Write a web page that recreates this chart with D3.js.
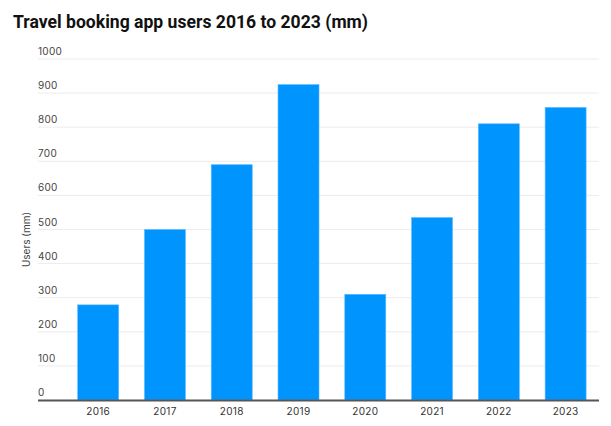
<!DOCTYPE html>
<html><head><meta charset="utf-8">
<script src="https://cdn.jsdelivr.net/npm/d3@7"></script>
<style>
html,body{margin:0;padding:0;background:#fff;}
svg{display:block;font-family:Inter, "Noto Sans", sans-serif;}
</style></head>
<body>
<svg id="chart" width="611" height="426"></svg>
<script>
const years = ["2016","2017","2018","2019","2020","2021","2022","2023"];
const users = [279, 500, 690, 925, 310, 535, 810, 858];
const yTicks = [0,100,200,300,400,500,600,700,800,900,1000];
const titleText = "Travel booking app users 2016 to 2023 (mm)";
const yAxisTitle = "Users (mm)";

const svg = d3.select("#chart");
const gridLeft = 38, gridRight = 599;
const y = d3.scaleLinear().domain([0,1000]).range([400,59]);
const x = d3.scaleBand().domain(years).range([64.8,599]).paddingInner(0.386).paddingOuter(0.193);

svg.append("text").attr("x",13).attr("y",28)
  .attr("font-size",19).attr("font-weight",700).attr("fill","#111")
  .attr("font-family","Roboto, sans-serif")
  .attr("textLength",355).attr("lengthAdjust","spacingAndGlyphs")
  .text(titleText);

// gridlines
svg.append("g").selectAll("line").data(yTicks.filter(d=>d>0)).join("line")
  .attr("x1",gridLeft).attr("x2",gridRight)
  .attr("y1",d=>y(d)).attr("y2",d=>y(d))
  .attr("stroke","#ececec").attr("stroke-width",1);

// y tick labels
svg.append("g").selectAll("text").data(yTicks).join("text")
  .attr("x",gridLeft).attr("y",d=>y(d)-4)
  .attr("font-size",10).attr("fill","#444").attr("letter-spacing","0.3")
  .text(d=>d);

// y title
svg.append("text").attr("transform",`translate(30,${(y(0)+y(1000))/2+10}) rotate(-90)`)
  .attr("text-anchor","middle").attr("font-size",10).attr("fill","#444")
  .text(yAxisTitle);

// bars
svg.append("g").selectAll("rect").data(years).join("rect")
  .attr("x",d=>x(d)).attr("width",x.bandwidth())
  .attr("y",(d,i)=>y(users[i])).attr("height",(d,i)=>y(0)-y(users[i]))
  .attr("fill","#0094ff").attr("stroke","#5cbcff").attr("stroke-width",0.6);

// baseline
svg.append("line").attr("x1",gridLeft).attr("x2",gridRight)
  .attr("y1",y(0)+0.5).attr("y2",y(0)+0.5).attr("stroke","#555").attr("stroke-width",2);

// x axis labels
const xAxis = d3.axisBottom(x).tickSize(0).tickPadding(8);
const gx = svg.append("g").attr("transform",`translate(0,${y(0)})`).call(xAxis);
gx.select(".domain").remove();
gx.selectAll("text").attr("font-size",10).attr("fill","#333").attr("letter-spacing","0.3")
  .attr("font-family","Inter, 'Noto Sans', sans-serif");
</script>
</body></html>
